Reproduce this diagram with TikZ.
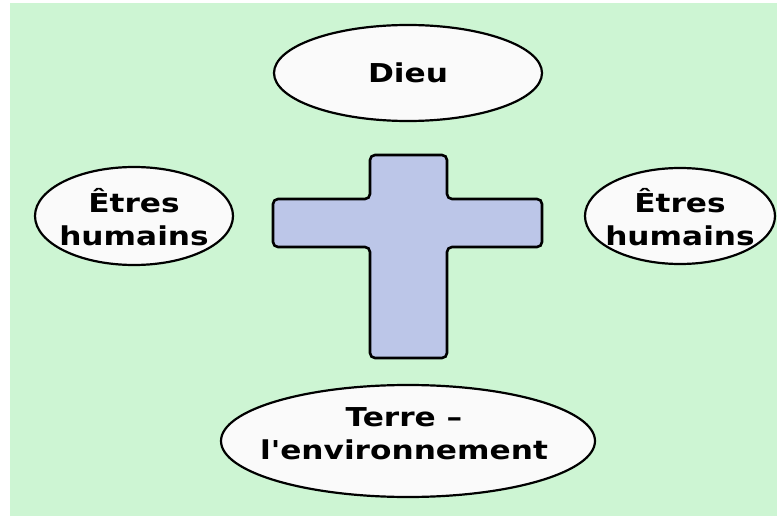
\documentclass[tikz,border=0pt]{standalone}
\usepackage{fontspec}
\newfontfamily\handfont[FakeStretch=1.2]{DejaVu Sans}
\definecolor{meadow}{RGB}{205,245,211}
\definecolor{crossblue}{RGB}{188,198,232}
\definecolor{bubble}{RGB}{250,250,250}
\tikzset{
  bubbleline/.style={draw=black,line width=2.2pt,fill=bubble},
  bubbletext/.style={inner sep=0pt,align=center,
    font=\handfont\bfseries\fontsize{26}{33}\selectfont},
}
\begin{document}
\begin{tikzpicture}[x=1pt,y=-1pt]
  \useasboundingbox (0,0) rectangle (777,516);
  \fill[white] (0,0) rectangle (777,516);
  \fill[meadow] (10,3) rectangle (777,516);
  % the cross
  \draw[line width=2.6pt,fill=crossblue,rounded corners=5pt]
    (370,155) -- (447,155) -- (447,199) -- (542,199) -- (542,247) -- (447,247)
    -- (447,358) -- (370,358) -- (370,247) -- (273,247) -- (273,199) -- (370,199) -- cycle;
  % the four bubbles
  \path[bubbleline] (408,73) ellipse [x radius=134, y radius=48];
  \node[bubbletext] (dieu) at (408,73) {Dieu};
  \path[bubbleline] (134,216) ellipse [x radius=99, y radius=49];
  \node[bubbletext] (humleft) at (134,217) {Êtres\\humains};
  \path[bubbleline] (680,216) ellipse [x radius=95, y radius=48];
  \node[bubbletext] (humright) at (680,217) {Êtres\\humains};
  \path[bubbleline] (408,441) ellipse [x radius=187, y radius=56];
  \node[bubbletext] (terre) at (404,434) {Terre –\\l'environnement};
\end{tikzpicture}
\end{document}
